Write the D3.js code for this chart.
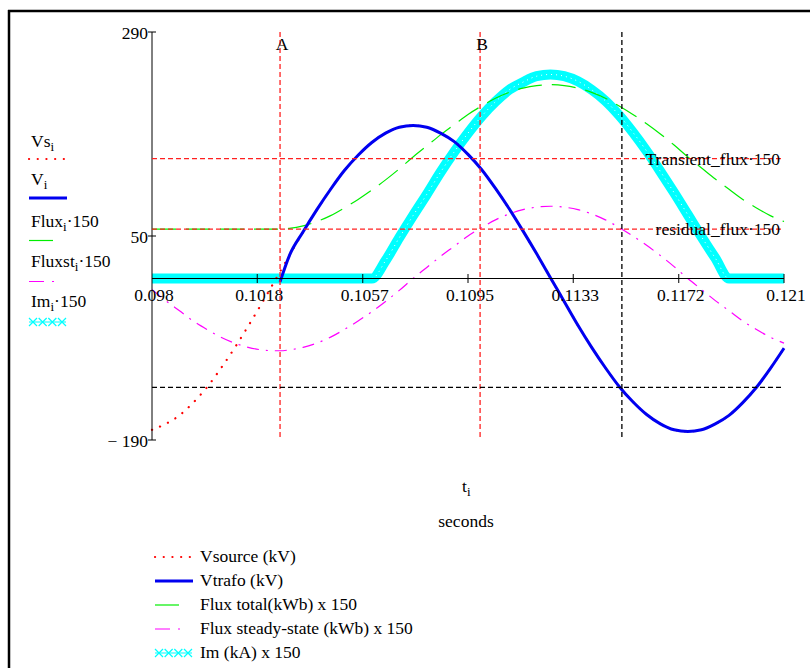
<!DOCTYPE html>
<html>
<head>
<meta charset="utf-8">
<script src="https://cdn.jsdelivr.net/npm/d3@7"></script>
<style>
  body { margin: 0; background: #fff; }
  svg text { font-family: "Liberation Serif", "Times New Roman", serif; fill: #000; }
</style>
</head>
<body>
<svg id="chart" width="810" height="668"></svg>
<script>
// Transformer energisation traces (t in seconds)
const times = [0.098, 0.0985, 0.099, 0.0995, 0.1, 0.1005, 0.101, 0.1015, 0.102, 0.1025,
    0.10266, 0.103, 0.1035, 0.104, 0.1045, 0.105, 0.1055, 0.106, 0.1065, 0.107,
    0.1075, 0.108, 0.1085, 0.109, 0.1095, 0.11, 0.1105, 0.111, 0.1115, 0.112,
    0.1125, 0.113, 0.1135, 0.114, 0.1145, 0.115, 0.1155, 0.116, 0.1165, 0.117,
    0.1175, 0.118, 0.1185, 0.119, 0.1195, 0.12, 0.1205, 0.121];

const vSource = [-178, -171, -161, -146, -128, -106, -82, -56, -29, -1,
    8, 27, 55, 81, 105, 127, 145, 160, 171, 178,
    180, 178, 171, 161, 146, 128, 106, 82, 56, 29,
    1, -27, -55, -81, -105, -127, -145, -160, -171, -178,
    -180, -178, -171, -161, -146, -128, -106, -82];

const vTrafo = [null, null, null, null, null, null, null, null, null, null,
    -4, 27, 55, 81, 105, 127, 145, 160, 171, 178,
    180, 178, 171, 161, 146, 128, 106, 82, 56, 29,
    1, -27, -55, -81, -105, -127, -145, -160, -171, -178,
    -180, -178, -171, -161, -146, -128, -106, -82];

const fluxTotal = [58, 58, 58, 58, 58, 58, 58, 58, 58, 58,
    58, 59, 62, 67, 74, 83, 93, 104, 116, 129,
    143, 156, 169, 181, 193, 203, 212, 219, 224, 227,
    228, 227, 224, 219, 212, 203, 193, 182, 170, 157,
    143, 130, 117, 105, 93, 83, 74, 67];

const fluxSteady = [-13, -26, -38, -50, -60, -69, -76, -81, -84, -85,
    -85, -84, -81, -76, -69, -60, -50, -39, -27, -14,
    0, 13, 26, 38, 50, 60, 69, 76, 81, 84,
    85, 84, 81, 76, 69, 60, 50, 39, 27, 14,
    0, -13, -26, -38, -50, -60, -69, -76];

const magCurrent = [0, 0, 0, 0, 0, 0, 0, 0, 0, 0,
    0, 0, 0, 0, 0, 0, 0, 0, 21, 48,
    74, 99, 125, 149, 171, 191, 208, 222, 231, 238,
    240, 238, 232, 222, 209, 192, 172, 150, 126, 101,
    75, 49, 24, 0, 0, 0, 0, 0];

const xTicks = [0.098, 0.10183, 0.10567, 0.1095, 0.11333, 0.11717, 0.121];
const xTickLabels = ['0.098', '0.1018', '0.1057', '0.1095', '0.1133', '0.1172', '0.121'];
const yTicks = [290, 50, -190];
const yTickLabels = ['290', '50', '\u2212 190'];

// marker lines (Mathcad x / y markers)
const xMarkers = [0.10266, 0.10994, 0.1151];
const xMarkerLabels = ['A', 'B', ''];
const yMarkers = [141, 58, -128];
const yMarkerLabels = ['Transient_flux\u00b7150', 'residual_flux\u00b7150', ''];

const axisNames = [['Vs', 'i', ''], ['V', 'i', ''], ['Flux', 'i', '\u00b7150'], ['Fluxst', 'i', '\u00b7150'], ['Im', 'i', '\u00b7150']];
const legendNames = ['Vsource (kV)', 'Vtrafo (kV)', 'Flux total(kWb) x 150', 'Flux steady-state (kWb) x 150', 'Im (kA) x 150'];

const FS = 17.5;
const svg = d3.select('#chart');

// frame (only top and left edges show in the capture)
svg.append('line').attr('x1', 8).attr('y1', 11).attr('x2', 810).attr('y2', 11)
    .attr('stroke', '#000').attr('stroke-width', 2.5);
svg.append('line').attr('x1', 9).attr('y1', 10).attr('x2', 9).attr('y2', 668)
    .attr('stroke', '#000').attr('stroke-width', 2.5);

const x = d3.scaleLinear().domain([0.098, 0.121]).range([152, 784]);
const y = d3.scaleLinear().domain([-190, 290]).range([440, 32]);

const styles = [
    { color: '#ff0000', width: 2.2, dash: '0.1,8.6', cap: 'round' },
    { color: '#0000f0', width: 3, dash: null, cap: 'butt' },
    { color: '#00ee00', width: 1.2, dash: '24,10', cap: 'butt' },
    { color: '#ff00ff', width: 1.2, dash: '12,7,2,7', cap: 'butt' },
    { color: '#00ffff', width: 10, dash: null, cap: 'butt' }
];
const series = [vSource, vTrafo, fluxTotal, fluxSteady, magCurrent];

const line = vals => d3.line()
    .defined((d, i) => vals[i] !== null)
    .x((d, i) => x(times[i]))
    .y((d, i) => y(vals[i]))
    .curve(d3.curveMonotoneX)(vals);

const plot = svg.append('g');

// draw order: Im under everything, then the fluxes, then the voltages
[4, 3, 2, 0, 1].forEach(k => {
    const st = styles[k];
    plot.append('path')
        .attr('d', line(series[k]))
        .attr('fill', 'none')
        .attr('stroke', st.color)
        .attr('stroke-width', st.width)
        .attr('stroke-linecap', st.cap)
        .attr('stroke-linejoin', 'round')
        .attr('stroke-dasharray', st.dash);
    if (k === 4) {
        // the dense cross symbols leave a speckled band
        plot.append('path')
            .attr('d', line(series[k]))
            .attr('fill', 'none')
            .attr('stroke', '#ffffff')
            .attr('stroke-width', 1)
            .attr('stroke-dasharray', '1,4');
    }
});

// axes
const axes = svg.append('g').attr('stroke', '#000');
axes.append('line').attr('x1', x(0.098)).attr('x2', x(0.098)).attr('y1', y(290)).attr('y2', y(-190));
axes.append('line').attr('x1', x(0.098)).attr('x2', x(0.121)).attr('y1', y(0)).attr('y2', y(0));
xTicks.forEach((t, i) => {
    if (i > 0) {
        axes.append('line').attr('x1', x(t)).attr('x2', x(t))
            .attr('y1', y(0) - 4.5).attr('y2', y(0) + 4.5);
    }
    svg.append('text').attr('x', x(t) + 2).attr('y', 301)
        .attr('text-anchor', 'middle').attr('font-size', FS)
        .text(xTickLabels[i]);
});
yTicks.forEach((v, i) => {
    axes.append('line').attr('x1', x(0.098) - 4).attr('x2', x(0.098) + 4)
        .attr('y1', y(v)).attr('y2', y(v));
    svg.append('text').attr('x', 148).attr('y', y(v) + 7)
        .attr('text-anchor', 'end').attr('font-size', FS)
        .text(yTickLabels[i]);
});

// markers
const markerColor = ['#ff2020', '#ff2020', '#000'];
xMarkers.forEach((t, i) => {
    svg.append('line').attr('x1', x(t)).attr('x2', x(t))
        .attr('y1', y(290)).attr('y2', y(-190))
        .attr('stroke', markerColor[i]).attr('stroke-width', 1.3)
        .attr('stroke-dasharray', '5,3');
    svg.append('text').attr('x', x(t) + 2).attr('y', 50)
        .attr('text-anchor', 'middle').attr('font-size', FS)
        .text(xMarkerLabels[i]);
});
yMarkers.forEach((v, i) => {
    svg.append('line').attr('x1', x(0.098)).attr('x2', x(0.121))
        .attr('y1', y(v)).attr('y2', y(v))
        .attr('stroke', markerColor[i]).attr('stroke-width', 1.3)
        .attr('stroke-dasharray', '5,3');
    svg.append('text').attr('x', 780).attr('y', y(v) + 6)
        .attr('text-anchor', 'end').attr('font-size', FS)
        .text(yMarkerLabels[i]);
});

// sample line for a trace, used by both legends
function sample(g, k, x0, x1, yy) {
    const st = styles[k];
    if (k === 4) {
        g.append('line').attr('x1', x0).attr('x2', x1).attr('y1', yy).attr('y2', yy)
            .attr('stroke', st.color).attr('stroke-width', 1.2);
        d3.range(4).forEach(j => {
            const cx = x0 + 4 + j * (x1 - x0 - 8) / 3;
            g.append('path')
                .attr('d', `M${cx - 4},${yy - 4}L${cx + 4},${yy + 4}M${cx - 4},${yy + 4}L${cx + 4},${yy - 4}`)
                .attr('stroke', st.color).attr('stroke-width', 1.2);
        });
        return;
    }
    g.append('line').attr('x1', x0).attr('x2', x1).attr('y1', yy).attr('y2', yy)
        .attr('stroke', st.color).attr('stroke-width', st.width)
        .attr('stroke-linecap', st.cap)
        .attr('stroke-dasharray', k === 3 ? '15,8,2,8' : st.dash);
}

// y-axis trace labels (left)
const leftBase = [147, 185, 227, 267, 307];
const leftLine = [159, 198, 240.5, 281.5, 322];
const leftLen = [37, 38, 25, 25, 37];
axisNames.forEach((n, i) => {
    const t = svg.append('text').attr('x', 31).attr('y', leftBase[i]).attr('font-size', FS);
    t.append('tspan').text(n[0]);
    t.append('tspan').attr('dy', 4).attr('font-size', 13).text(n[1]);
    t.append('tspan').attr('dy', -4).text(n[2]);
    sample(svg, i, 29, 29 + leftLen[i], leftLine[i]);
});

// x-axis title
const xt = svg.append('text').attr('x', 462).attr('y', 492).attr('font-size', FS);
xt.append('tspan').text('t');
xt.append('tspan').attr('dy', 4).attr('font-size', 13).text('i');
svg.append('text').attr('x', 466).attr('y', 527).attr('text-anchor', 'middle')
    .attr('font-size', FS).text('seconds');

// bottom legend
const legendLen = [37, 38, 25, 25, 37];
legendNames.forEach((name, i) => {
    const by = 562 + i * 24;
    sample(svg, i, 155, 155 + legendLen[i], by - 5);
    svg.append('text').attr('x', 200).attr('y', by).attr('font-size', FS).text(name);
});
</script>
</body>
</html>
